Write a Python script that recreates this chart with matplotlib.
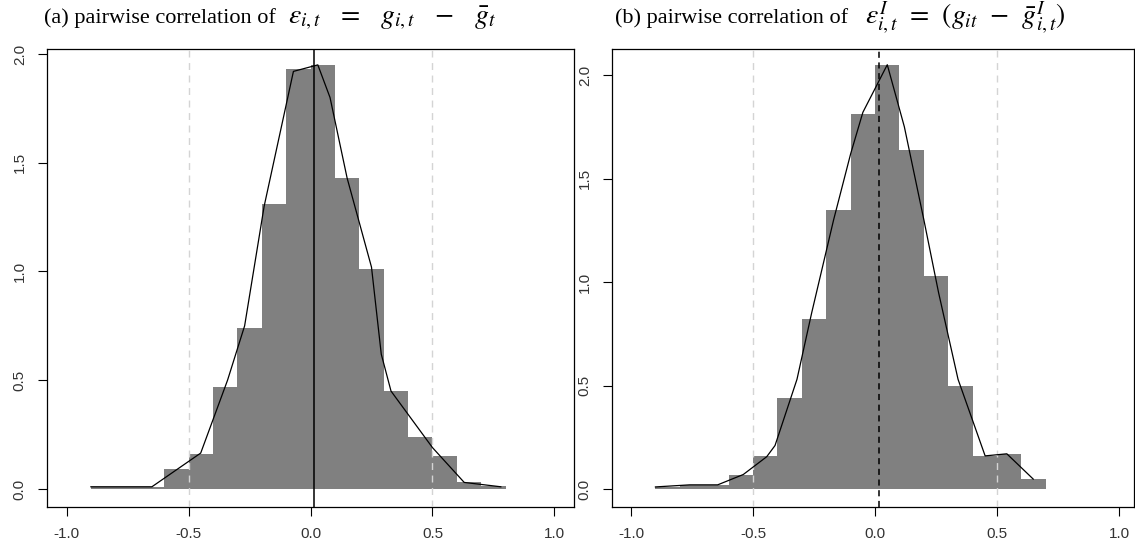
import numpy as np
import matplotlib.pyplot as plt

# histogram bins (density scale)
edges_a = [-0.9, -0.8, -0.7, -0.6, -0.5, -0.4, -0.3, -0.2, -0.1, 0.0, 0.1, 0.2, 0.3, 0.4, 0.5, 0.6, 0.7, 0.8]
dens_a = [0.01, 0.01, 0.01, 0.09, 0.16, 0.47, 0.74, 1.31, 1.93, 1.95, 1.43, 1.01, 0.45, 0.24, 0.15, 0.03, 0.015]

edges_b = [-0.9, -0.8, -0.7, -0.6, -0.5, -0.4, -0.3, -0.2, -0.1, 0.0, 0.1, 0.2, 0.3, 0.4, 0.5, 0.6, 0.7]
dens_b = [0.01, 0.02, 0.02, 0.07, 0.16, 0.44, 0.82, 1.35, 1.81, 2.05, 1.64, 1.03, 0.50, 0.16, 0.17, 0.05]

# density polygon
line_ax = [-0.90, -0.65, -0.45, -0.34, -0.27, -0.19, -0.07, 0.03, 0.08, 0.15, 0.25, 0.29, 0.33, 0.50, 0.63, 0.78]
line_ay = [0.01, 0.01, 0.165, 0.50, 0.75, 1.30, 1.92, 1.95, 1.80, 1.43, 1.02, 0.62, 0.45, 0.19, 0.03, 0.01]

line_bx = [-0.90, -0.76, -0.645, -0.54, -0.444, -0.41, -0.32, -0.26, -0.17, -0.10, -0.05, 0.05, 0.12, 0.20, 0.26, 0.34, 0.451, 0.54, 0.648]
line_by = [0.01, 0.02, 0.02, 0.07, 0.156, 0.21, 0.53, 0.85, 1.30, 1.62, 1.82, 2.05, 1.75, 1.30, 0.95, 0.53, 0.16, 0.17, 0.048]

mean_a = 0.015
mean_b = 0.015

title_a = "(a) pairwise correlation of"
eq_a = r"$\varepsilon_{i,t}\;\;\;=\;\;\;g_{i,t}\;\;\;-\;\;\;\bar{g}_t$"
title_b = "(b) pairwise correlation of"
eq_b = r"$\varepsilon^{I}_{i,t}\;\,=\;\,(g_{it}\;\,-\;\,\bar{g}^{I}_{i,t})$"

xt = [-1.0, -0.5, 0.0, 0.5, 1.0]
xt_lab = ["-1.0", "-0.5", "0.0", "0.5", "1.0"]
yt = [0.0, 0.5, 1.0, 1.5, 2.0]
yt_lab = ["0.0", "0.5", "1.0", "1.5", "2.0"]

plt.rcParams['mathtext.fontset'] = 'stix'
plt.rcParams['font.family'] = ['Liberation Sans', 'DejaVu Sans']

W, H = 1135, 548
fig = plt.figure(figsize=(W / 100, H / 100), dpi=100)

ax1 = fig.add_axes([47 / W, 41 / H, 527 / W, 458 / H])
ax2 = fig.add_axes([612 / W, 41 / H, 522 / W, 458 / H])


def draw(ax, edges, dens, lx, ly, mean, ls_mean, xlim, ylim):
	edges = np.array(edges)
	ax.bar(edges[:-1], dens, width=np.diff(edges), align='edge', color='#808080', linewidth=0, zorder=2)
	ax.plot(lx, ly, color='black', lw=0.9, zorder=4)
	for v in [-0.5, 0.5]:
		ax.axvline(v, color='#d4d4d4', lw=1.0, ls=(0, (5, 4)), zorder=3)
	ax.axvline(mean, color='black', lw=1.1, ls=ls_mean, zorder=5)
	ax.set_xlim(*xlim)
	ax.set_ylim(*ylim)
	ax.set_xticks(xt)
	ax.set_xticklabels(xt_lab)
	ax.set_yticks(yt)
	ax.set_yticklabels(yt_lab, rotation=90, va='center')
	ax.tick_params(direction='out', length=6.5, width=0.8, pad=8, labelsize=11, labelcolor='#333333')
	for s in ax.spines.values():
		s.set_linewidth(0.9)


draw(ax1, edges_a, dens_a, line_ax, line_ay, mean_a, '-', (-1.08, 1.08), (-0.083, 2.023))
draw(ax2, edges_b, dens_b, line_bx, line_by, mean_b, (0, (4, 3)), (-1.078, 1.061), (-0.087, 2.126))

ty = 1 - 23.5 / H
fig.text(44 / W, ty, title_a, fontsize=16, family='Liberation Serif', va='baseline')
fig.text(288 / W, ty, eq_a, fontsize=20, va='baseline')
fig.text(615 / W, ty, title_b, fontsize=16, family='Liberation Serif', va='baseline')
fig.text(865 / W, ty, eq_b, fontsize=20, va='baseline')

fig.savefig("out.png", dpi=100)
